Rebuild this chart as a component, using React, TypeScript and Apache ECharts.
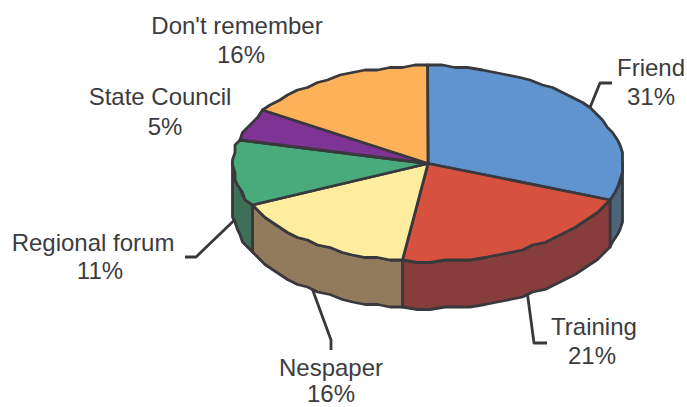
import React, { useEffect, useRef } from "react";
import * as echarts from "echarts";

const categories = ["Friend", "Training", "Nespaper", "Regional forum", "State Council", "Don't remember"];
const shares = [31, 21, 16, 11, 5, 16];
const topColors = ["#6094cf", "#d6523f", "#ffed9f", "#49aa7c", "#7f3394", "#fdb25a"];
const wallColors = ["#4e6478", "#873d3b", "#917b5c", "#3f6f56", "#54276a", "#a87b40"];

// Pie geometry: centre, radii of the top ellipse, thickness of the disc.
const CX = 428;
const CY = 163.5;
const RX = 195;
const RY = 98;
const DEPTH = 47;
const STEP_DEG = 4;
const GRID = 2.5;
const INK = "#38383d";
const TEXT = "#3c3c40";
const FONT = '24px "Liberation Sans", Arial, sans-serif';

// Text positions per category: name line [x, y], percent line [x, y].
const nameAnchors: number[][] = [[651, 67], [594, 326], [331, 367], [93, 242], [160, 96], [237, 25]];
const percentAnchors: number[][] = [[651, 96], [592, 355], [331, 393], [100, 270], [165, 126], [241, 54]];
const leaderElbows: (number[][] | null)[] = [
  [[600, 83], [612, 83]],
  [[534, 343], [547, 343]],
  [[331, 340], [331, 350]],
  [[196, 257], [185, 257]],
  null,
  null,
];

const total = shares.reduce((a, b) => a + b, 0);
const startDeg = (i: number) => (shares.slice(0, i).reduce((a, b) => a + b, 0) / total) * 360;
const endDeg = (i: number) => startDeg(i + 1);

const snap = (v: number) => Math.round(v / GRID) * GRID;
const rim = (deg: number, drop = 0): number[] => {
  const r = (deg * Math.PI) / 180;
  return [snap(CX + RX * Math.sin(r)), snap(CY - RY * Math.cos(r)) + drop];
};
const arc = (from: number, to: number, drop = 0): number[][] => {
  const out: number[][] = [];
  const n = Math.max(1, Math.ceil((to - from) / STEP_DEG));
  for (let k = 0; k <= n; k++) out.push(rim(from + ((to - from) * k) / n, drop));
  return out;
};

const lineStyle = { stroke: INK, lineWidth: 2.8, lineJoin: "round" as const };

const renderWall = (params: any) => {
  const i = params.dataIndex;
  const from = Math.max(startDeg(i), 90);
  const to = Math.min(endDeg(i), 270);
  if (to <= from) return { type: "group", children: [] };
  const points = [...arc(from, to), ...arc(from, to, DEPTH).reverse()];
  return { type: "polygon", shape: { points }, style: { fill: wallColors[i], ...lineStyle } };
};

const renderTop = (params: any) => {
  const i = params.dataIndex;
  const points = [[CX, CY], ...arc(startDeg(i), endDeg(i))];
  return { type: "polygon", shape: { points }, style: { fill: topColors[i], ...lineStyle } };
};

const textLine = (text: string, at: number[]) => ({
  type: "text",
  style: {
    x: at[0],
    y: at[1],
    text,
    font: FONT,
    lineHeight: 18,
    fill: TEXT,
    textAlign: "center",
    textVerticalAlign: "middle",
  },
});

const renderLabel = (params: any, api: any) => {
  const i = params.dataIndex;
  const children: any[] = [];
  const mid = (startDeg(i) + endDeg(i)) / 2;
  const elbows = leaderElbows[i];
  if (elbows) {
    const front = mid > 90 && mid < 270;
    const points = [rim(mid, front ? DEPTH : 0), ...elbows];
    children.push({ type: "polyline", shape: { points }, style: { ...lineStyle, fill: "none" } });
  }
  children.push(textLine(categories[i], nameAnchors[i]));
  children.push(textLine(`${api.value(0)}%`, percentAnchors[i]));
  return { type: "group", children };
};

export default function App() {
  const ref = useRef<HTMLDivElement>(null);
  useEffect(() => {
    const chart = echarts.init(ref.current!, undefined, { renderer: "svg" });
    const data = shares.map((v) => [v]);
    chart.setOption({
      animation: false,
      series: [
        { type: "custom", coordinateSystem: "none", silent: true, data, renderItem: renderWall, z: 1 },
        { type: "custom", coordinateSystem: "none", silent: true, data, renderItem: renderTop, z: 2 },
        { type: "custom", coordinateSystem: "none", silent: true, data, renderItem: renderLabel, z: 3 },
      ],
    });
    return () => chart.dispose();
  }, []);
  return (
    <div
      ref={ref}
      style={{ position: "absolute", left: 0, top: 0, width: 687, height: 407, background: "#fff" }}
    />
  );
}
